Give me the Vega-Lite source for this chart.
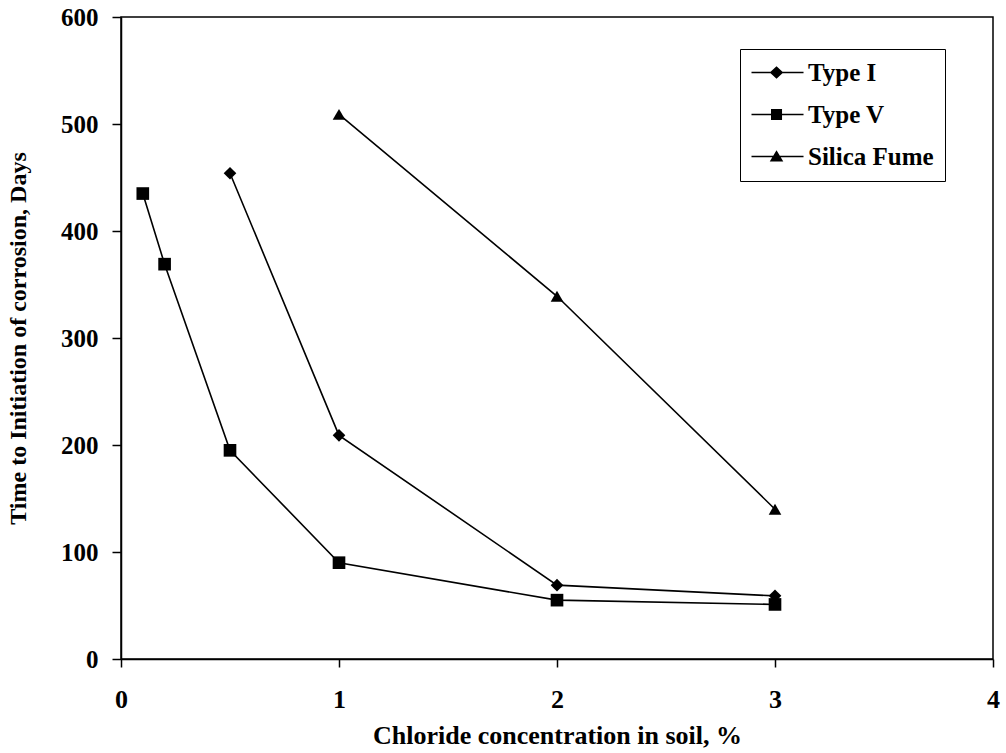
{
  "$schema": "https://vega.github.io/schema/vega-lite/v6.json",
  "autosize": {"type": "none"},
  "padding": {"left": 121, "top": 17, "right": 13, "bottom": 94},
  "width": 872,
  "height": 642,
  "background": "white",
  "config": {
    "view": {"stroke": "black", "strokeWidth": 1.5},
    "font": "Liberation Serif",
    "axis": {
      "grid": false,
      "domainColor": "black",
      "domainWidth": 1.5,
      "tickColor": "black",
      "tickWidth": 1.5,
      "labelFont": "Liberation Serif",
      "labelFontWeight": "bold",
      "labelColor": "black",
      "titleFont": "Liberation Serif",
      "titleFontWeight": "bold",
      "titleColor": "black"
    }
  },
  "data": {
    "values": [
      {"series": "Type I", "x": 0.5, "y": 454},
      {"series": "Type I", "x": 1, "y": 209},
      {"series": "Type I", "x": 2, "y": 69},
      {"series": "Type I", "x": 3, "y": 59},
      {"series": "Type V", "x": 0.1, "y": 435},
      {"series": "Type V", "x": 0.2, "y": 369},
      {"series": "Type V", "x": 0.5, "y": 195},
      {"series": "Type V", "x": 1, "y": 90},
      {"series": "Type V", "x": 2, "y": 55},
      {"series": "Type V", "x": 3, "y": 51},
      {"series": "Silica Fume", "x": 1, "y": 509},
      {"series": "Silica Fume", "x": 2, "y": 339},
      {"series": "Silica Fume", "x": 3, "y": 140}
    ]
  },
  "encoding": {
    "x": {
      "field": "x",
      "type": "quantitative",
      "scale": {"domain": [0, 4], "nice": false, "zero": false},
      "axis": {
        "title": "Chloride concentration in soil, %",
        "values": [0, 1, 2, 3, 4],
        "tickSize": 8,
        "labelFontSize": 26,
        "labelPadding": 19,
        "titleFontSize": 26,
        "titlePadding": 10,
        "labelFlush": false
      }
    },
    "y": {
      "field": "y",
      "type": "quantitative",
      "scale": {"domain": [0, 600], "nice": false},
      "axis": {
        "title": "Time to Initiation of corrosion, Days",
        "values": [0, 100, 200, 300, 400, 500, 600],
        "tickSize": 9,
        "labelFontSize": 25,
        "labelPadding": 14,
        "titleFontSize": 24,
        "titlePadding": 30,
        "labelFlush": false
      }
    }
  },
  "layer": [
    {
      "mark": {"type": "line", "color": "black", "strokeWidth": 1.6},
      "encoding": {"detail": {"field": "series"}}
    },
    {
      "mark": {"type": "point", "filled": true, "color": "black", "opacity": 1, "size": 160},
      "encoding": {
        "shape": {
          "field": "series",
          "type": "nominal",
          "scale": {
            "domain": ["Type I", "Type V", "Silica Fume"],
            "range": ["diamond", "square", "triangle-up"]
          },
          "legend": null
        }
      }
    },
    {
      "transform": [{"filter": "false"}],
      "mark": {"type": "point", "filled": true, "color": "black", "fill": "black", "stroke": "black", "strokeWidth": 1.5, "opacity": 1},
      "encoding": {
        "shape": {
          "field": "series",
          "type": "nominal",
          "scale": {
            "domain": ["Type I", "Type V", "Silica Fume"],
            "range": [
              "M-2,-0.13H6.67V0.13H-2ZM2.17,-1.05L3.3,0L2.17,1.05L1.04,0Z",
              "M-2,-0.13H6.67V0.13H-2ZM1.25,-0.92H3.09V0.92H1.25Z",
              "M-2,-0.13H6.67V0.13H-2ZM2.17,-1.05L3.3,0.85L1.04,0.85Z"
            ]
          },
          "legend": {
            "title": null,
            "orient": "none",
            "legendX": 619,
            "legendY": 32,
            "padding": 11,
            "strokeColor": "black",
            "fillColor": "white",
            "symbolSize": 144,
            "symbolFillColor": "black",
            "symbolStrokeColor": "black",
            "symbolStrokeWidth": 1.5,
            "symbolOpacity": 1,
            "labelFont": "Liberation Serif",
            "labelFontWeight": "bold",
            "labelFontSize": 25,
            "labelColor": "black",
            "labelOffset": 32,
            "labelLimit": 300,
            "rowPadding": 16
          }
        }
      }
    }
  ],
  "resolve": {"scale": {"shape": "independent"}, "legend": {"shape": "independent"}}
}
